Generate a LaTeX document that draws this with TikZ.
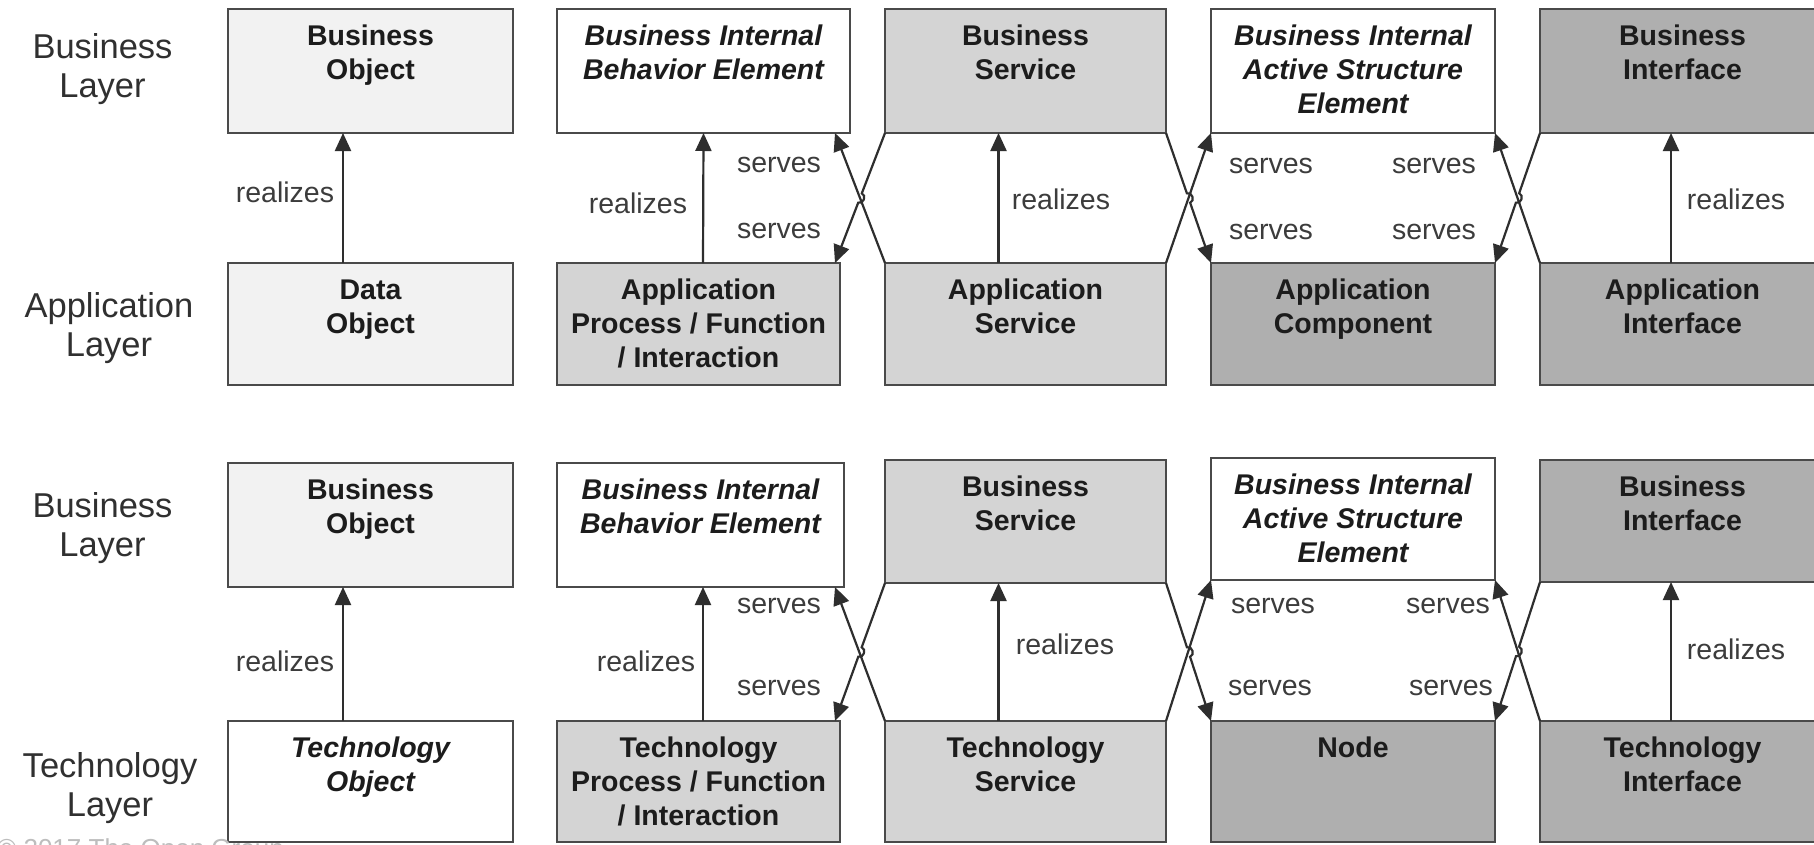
\documentclass[tikz,border=0pt]{standalone}
\usepackage{fontspec}
\setmainfont{Liberation Sans}
\usetikzlibrary{arrows.meta,calc}
\definecolor{fillA}{HTML}{F2F2F2}
\definecolor{fillB}{HTML}{D4D4D4}
\definecolor{fillC}{HTML}{AFAFAF}
\definecolor{edgec}{HTML}{4A4A4A}
\definecolor{connc}{HTML}{2E2E2E}
\definecolor{txtc}{HTML}{1C1C1C}
\definecolor{lblc}{HTML}{3C3C3C}
\definecolor{layc}{HTML}{303030}
\definecolor{copyc}{HTML}{BDBDBD}
\newcommand\archbox[6]{\node[archrect, fill=#6, minimum width={#4-#2}, minimum height={#5-#3}] (#1) at (#2,-#3) {};}
\newcommand\archtext[2]{\node[btext] (#1t) at ([yshift=-12.5pt]#1.north) {\strut #2};}
\newcommand\hopserve[3]{%
  \coordinate (#3) at ($(#1)!0.5!(#2)$);
  \draw[arr] (#1) -- ($(#3)!5pt!(#1)$) to[bend left=90, looseness=1.4] ($(#3)!5pt!(#2)$) -- (#2);}
\begin{document}
\begin{tikzpicture}[x=1pt,y=1pt,
  archrect/.style={draw=edgec, line width=2.6pt, anchor=north west, inner sep=0pt, outer sep=0pt},
  btext/.style={anchor=north, inner sep=0pt, align=center, font=\fontsize{28.5}{34}\selectfont\bfseries, text=txtc},
  lbl/.style={inner sep=0pt, font=\fontsize{28.5}{34}\selectfont, text=lblc},
  lay/.style={inner sep=0pt, align=center, font=\fontsize{34.5}{39}\selectfont, text=layc},
  conn/.style={draw=connc, line width=2.2pt},
  arr/.style={conn, -{Triangle[length=18pt,width=16pt]}}]
\useasboundingbox (0,0) rectangle (1814,-844);
\clip (0,0) rectangle (1814,-844);
\fill[white] (0,0) rectangle (1814,-844);

% layer labels
\node[lay] (lb1) at (102.5,-69) {Business\\Layer};
\node[lay] (la1) at (109,-328) {Application\\Layer};
\node[lay] (lb2) at (102.5,-528) {Business\\Layer};
\node[lay] (lt2) at (110,-788) {Technology\\Layer};

% ---------- top section ----------
\archbox{bo1}{228}{9}{513}{133}{fillA}
\archbox{do1}{228}{263}{513}{385}{fillA}
\archbox{bibe1}{557}{9}{850}{133}{white}
\archbox{ap1}{557}{263}{840}{385}{fillB}
\archbox{bs1}{885}{9}{1166}{133}{fillB}
\archbox{as1}{885}{263}{1166}{385}{fillB}
\archbox{biase1}{1211}{9}{1495}{133}{white}
\archbox{ac1}{1211}{263}{1495}{385}{fillC}
\archbox{bi1}{1540}{9}{1825}{133}{fillC}
\archbox{ai1}{1540}{263}{1825}{385}{fillC}

\archtext{bo1}{Business\\Object}
\archtext{do1}{Data\\Object}
\archtext{bibe1}{\itshape Business Internal\\\itshape Behavior Element}
\archtext{ap1}{Application\\Process / Function\\/ Interaction}
\archtext{bs1}{Business\\Service}
\archtext{as1}{Application\\Service}
\archtext{biase1}{\itshape Business Internal\\\itshape Active Structure\\\itshape Element}
\archtext{ac1}{Application\\Component}
\archtext{bi1}{Business\\Interface}
\archtext{ai1}{Application\\Interface}

% ---------- bottom section ----------
\archbox{bo2}{228}{463}{513}{587}{fillA}
\archbox{to2}{228}{721}{513}{842}{white}
\archbox{bibe2}{557}{463}{844}{587}{white}
\archbox{tp2}{557}{721}{840}{842}{fillB}
\archbox{bs2}{885}{460}{1166}{583}{fillB}
\archbox{ts2}{885}{721}{1166}{842}{fillB}
\archbox{biase2}{1211}{458}{1495}{580}{white}
\archbox{node2}{1211}{721}{1495}{842}{fillC}
\archbox{bi2}{1540}{460}{1825}{582}{fillC}
\archbox{ti2}{1540}{721}{1825}{842}{fillC}

\archtext{bo2}{Business\\Object}
\archtext{to2}{\itshape Technology\\\itshape Object}
\archtext{bibe2}{\itshape Business Internal\\\itshape Behavior Element}
\archtext{tp2}{Technology\\Process / Function\\/ Interaction}
\archtext{bs2}{Business\\Service}
\archtext{ts2}{Technology\\Service}
\archtext{biase2}{\itshape Business Internal\\\itshape Active Structure\\\itshape Element}
\archtext{node2}{Node}
\archtext{bi2}{Business\\Interface}
\archtext{ti2}{Technology\\Interface}

% ---------- top connectors ----------
\draw[arr] ([xshift=-27.5pt]do1.north) -- ([xshift=-27.5pt]bo1.south);
\draw[arr] ([xshift=4.5pt]ap1.north) -- (bibe1.south);
\draw[arr] ([xshift=-27pt]as1.north) -- ([xshift=-27pt]bs1.south);
\draw[arr] ([xshift=-11.5pt]ai1.north) -- ([xshift=-11.5pt]bi1.south);

\coordinate (ap1e) at ([xshift=-5pt]ap1.north east);
\coordinate (bibe1e) at ([xshift=-15pt]bibe1.south east);
\draw[arr] (as1.north west) -- (bibe1e);
\hopserve{bs1.south west}{ap1e}{x1}
\draw[arr] (as1.north east) -- (biase1.south west);
\hopserve{bs1.south east}{ac1.north west}{x2}
\draw[arr] (ai1.north west) -- (biase1.south east);
\hopserve{bi1.south west}{ac1.north east}{x3}

\node[lbl] (r11) at (285,-192) {realizes};
\node[lbl] (r12) at (638,-203) {realizes};
\node[lbl] (s11) at (779,-165) {serves};
\node[lbl] (s12) at (779,-231) {serves};
\node[lbl] (r13) at (1061,-199) {realizes};
\node[lbl] (s13) at (1271,-166) {serves};
\node[lbl] (s14) at (1271,-232) {serves};
\node[lbl] (s15) at (1434,-166) {serves};
\node[lbl] (s16) at (1434,-232) {serves};
\node[lbl] (r15) at (1736,-199) {realizes};

% ---------- bottom connectors ----------
\draw[arr] ([xshift=-27.5pt]to2.north) -- ([xshift=-27.5pt]bo2.south);
\draw[arr] ([xshift=4.5pt]tp2.north) -- ([xshift=2.5pt]bibe2.south);
\draw[arr] ([xshift=-27pt]ts2.north) -- ([xshift=-27pt]bs2.south);
\draw[arr] ([xshift=-11.5pt]ti2.north) -- ([xshift=-11.5pt]bi2.south);

\coordinate (tp2e) at ([xshift=-5pt]tp2.north east);
\coordinate (bibe2e) at ([xshift=-9pt]bibe2.south east);
\draw[arr] (ts2.north west) -- (bibe2e);
\hopserve{bs2.south west}{tp2e}{x4}
\draw[arr] (ts2.north east) -- (biase2.south west);
\hopserve{bs2.south east}{node2.north west}{x5}
\draw[arr] (ti2.north west) -- (biase2.south east);
\hopserve{bi2.south west}{node2.north east}{x6}

\node[lbl] (r21) at (285,-661) {realizes};
\node[lbl] (r22) at (646,-661) {realizes};
\node[lbl] (s21) at (779,-606) {serves};
\node[lbl] (s22) at (779,-688) {serves};
\node[lbl] (r23) at (1065,-644) {realizes};
\node[lbl] (s23) at (1273,-606) {serves};
\node[lbl] (s24) at (1270,-688) {serves};
\node[lbl] (s25) at (1448,-606) {serves};
\node[lbl] (s26) at (1451,-688) {serves};
\node[lbl] (r25) at (1736,-649) {realizes};

% copyright (cropped)
\node[anchor=base west, inner sep=0pt, font=\fontsize{26}{30}\selectfont, text=copyc] (copy) at (-3,-857) {© 2017 The Open Group};
\end{tikzpicture}
\end{document}
